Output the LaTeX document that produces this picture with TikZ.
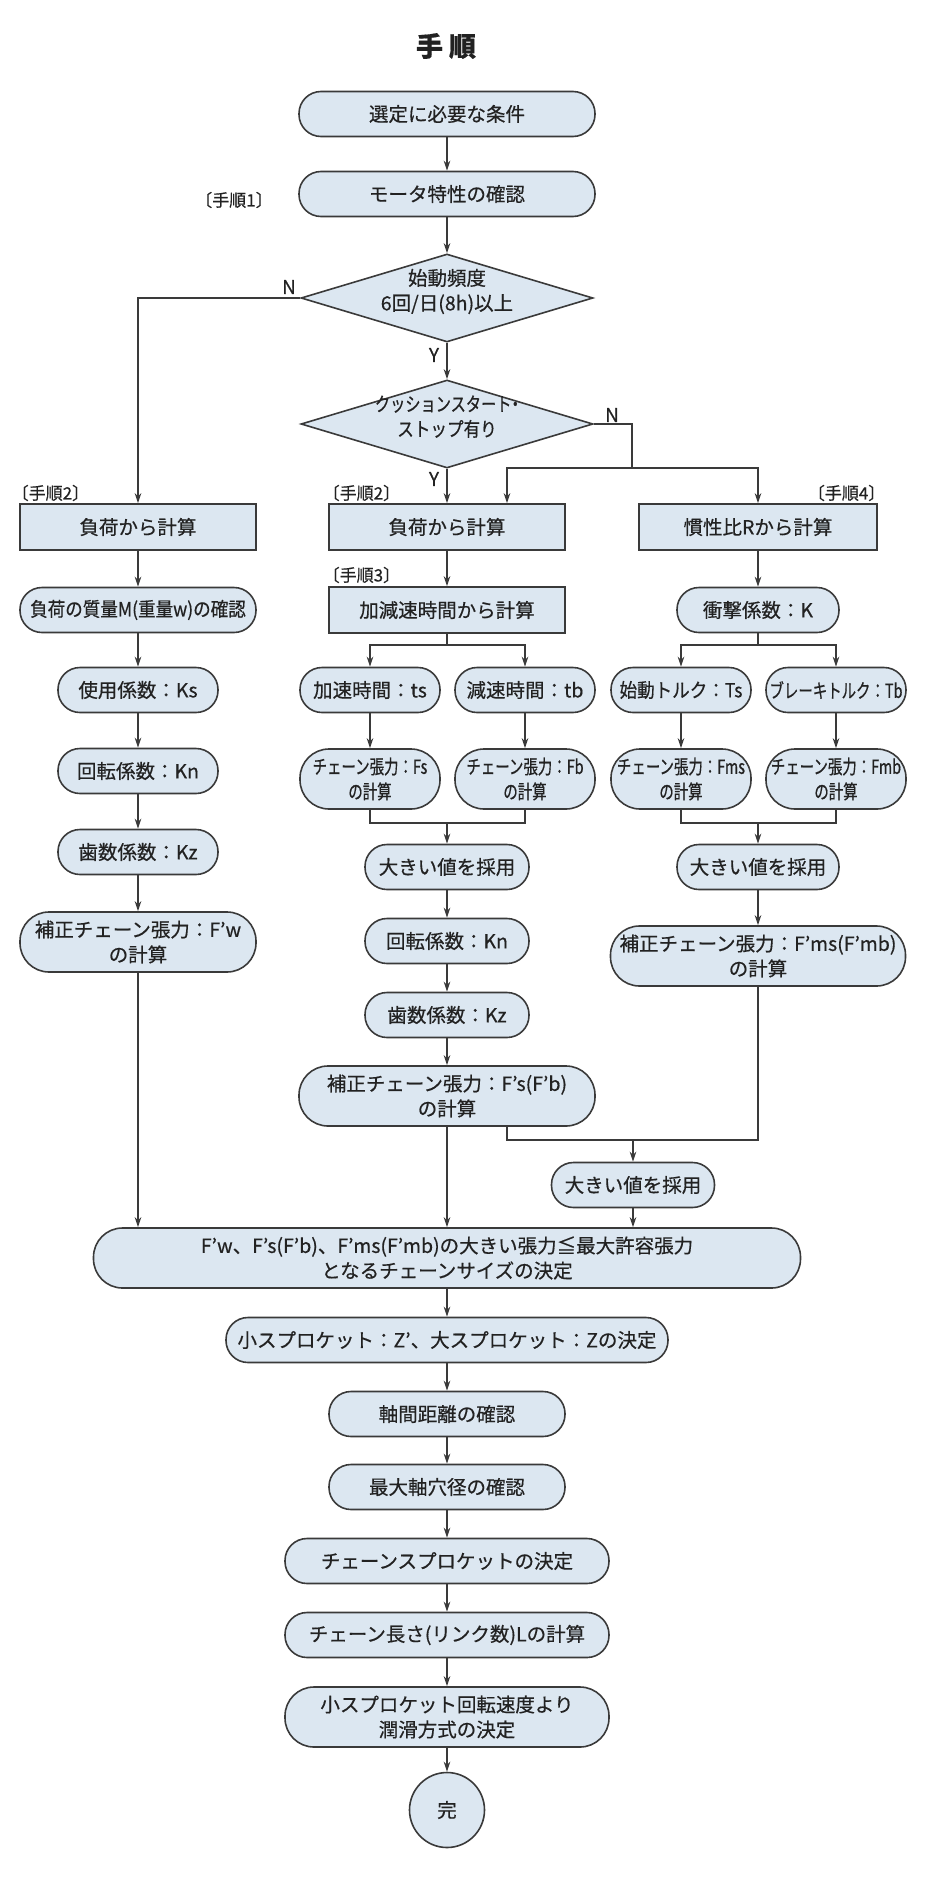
\documentclass[tikz,border=0pt]{standalone}
\usepackage{fontspec}
\setmainfont{Noto Sans CJK JP}[FakeBold=0.5]
\newfontfamily\jpslim{Noto Sans CJK JP}[FakeStretch=0.9, FakeBold=0.5]
\newfontfamily\jpkana{Noto Sans CJK JP}[FakeStretch=0.85, CharacterWidth=AlternateHalf, FakeBold=0.5]
\newfontfamily\jpkanatight{Noto Sans CJK JP}[FakeStretch=0.78, CharacterWidth=AlternateHalf, FakeBold=0.5]
\newfontfamily\jpnarrow{Noto Sans CJK JP}[FakeStretch=0.74, FakeBold=0.5]
\newfontfamily\jptag{Noto Sans CJK JP}[CharacterWidth=AlternateHalf, FakeBold=0.5]
\usepackage{tikz}
\usetikzlibrary{shapes.geometric, arrows.meta}
\definecolor{box_fill}{HTML}{DCE7F1}
\definecolor{box_line}{HTML}{3A3A3A}
\definecolor{box_text}{HTML}{222222}
\newcommand{\flatlines}[1]{\smash{\makebox[0pt]{\begin{tabular}{@{}c@{}}#1\end{tabular}}}}

\begin{document}
\begin{tikzpicture}[x=1pt, y=-1pt,
    base/.style={draw=box_line, fill=box_fill, line width=1.6pt, text=box_text, align=center, inner sep=0pt, font=\fontsize{19.5}{25}\selectfont},
    blk/.style={base, rectangle, minimum height=46pt},
    pill/.style={base, rectangle, rounded corners=22pt, minimum height=45pt},
    tall/.style={base, rectangle, rounded corners=29pt, minimum height=60pt},
    choice/.style={base, diamond, minimum width=292pt, minimum height=88pt},
    slim/.style={font=\jpslim\fontsize{19.5}{25}\selectfont},
    narrow/.style={font=\jpnarrow\fontsize{19.5}{25}\selectfont},
    tag/.style={text=box_text, inner sep=0pt, font=\jptag\fontsize{17}{19}\selectfont},
    yn/.style={text=box_text, inner sep=0pt, font=\fontsize{19}{21}\selectfont},
    arr/.style={-{Stealth[length=10pt, width=6.5pt]}, line width=1.2pt, draw=box_line},
    ln/.style={line width=1.2pt, draw=box_line}]
    \useasboundingbox (0,0) rectangle (950,1900);

    \node[text=box_text, font=\bfseries\fontsize{27}{30}\selectfont] (title) at (446,46) {手\hspace{6pt}順};

    \node[pill, minimum width=296pt] (cond) at (447,114) {選定に必要な条件};
    \node[pill, minimum width=296pt] (motor) at (447,194) {モータ特性の確認};
    \node[choice] (freq) at (447,298) {\flatlines{始動頻度\\6回/日(8h)以上}};
    \node[choice, font=\jpkana\fontsize{19.5}{25}\selectfont] (cush) at (447,424) {\flatlines{{\jpkanatight クッションスタート・}\\ストップ有り}};

    \node[blk, minimum width=236pt] (loadL) at (138,527) {負荷から計算};
    \node[blk, minimum width=236pt] (loadM) at (447,527) {負荷から計算};
    \node[blk, minimum width=238pt] (ratio) at (758,527) {慣性比Rから計算};

    \node[pill, slim, minimum width=236pt] (mass) at (138,610) {負荷の質量M(重量w)の確認};
    \node[blk, minimum width=236pt] (accdec) at (447,610) {加減速時間から計算};
    \node[pill, minimum width=162pt] (shock) at (758,610) {衝撃係数：K};

    \node[pill, minimum width=160pt] (ks) at (138,690) {使用係数：Ks};
    \node[pill, minimum width=140pt] (ts) at (370,690) {加速時間：ts};
    \node[pill, minimum width=140pt] (tb) at (525,690) {減速時間：tb};
    \node[pill, slim, minimum width=140pt] (tqs) at (681,690) {始動トルク：Ts};
    \node[pill, narrow, minimum width=140pt] (tqb) at (836,690) {ブレーキトルク：Tb};

    \node[pill, minimum width=160pt] (knL) at (138,771) {回転係数：Kn};
    \node[tall, narrow, minimum width=140pt] (fs) at (370,779) {チェーン張力：Fs\\の計算};
    \node[tall, narrow, minimum width=140pt] (fb) at (525,779) {チェーン張力：Fb\\の計算};
    \node[tall, narrow, minimum width=140pt] (fms) at (681,779) {チェーン張力：Fms\\の計算};
    \node[tall, narrow, minimum width=140pt] (fmb) at (836,779) {チェーン張力：Fmb\\の計算};

    \node[pill, minimum width=160pt] (kzL) at (138,852) {歯数係数：Kz};
    \node[pill, minimum width=164pt] (bigM) at (447,867) {大きい値を採用};
    \node[pill, minimum width=162pt] (bigR) at (758,867) {大きい値を採用};
    \node[tall, minimum width=236pt] (fw) at (138,942) {補正チェーン張力：F’w\\の計算};
    \node[pill, minimum width=164pt] (knM) at (447,941) {回転係数：Kn};
    \node[tall, minimum width=295pt] (fm) at (758,956) {補正チェーン張力：F’ms(F’mb)\\の計算};
    \node[pill, minimum width=164pt] (kzM) at (447,1015) {歯数係数：Kz};
    \node[tall, minimum width=296pt] (fsb) at (447,1096) {補正チェーン張力：F’s(F’b)\\の計算};
    \node[pill, minimum width=163pt] (bigB) at (633,1185) {大きい値を採用};

    \node[tall, minimum width=707pt] (size) at (447,1258) {F’w、F’s(F’b)、F’ms(F’mb)の大きい張力≦最大許容張力\\となるチェーンサイズの決定};
    \node[pill, minimum width=442pt] (sprk) at (447,1340) {小スプロケット：Z’、大スプロケット：Zの決定};
    \node[pill, minimum width=236pt] (dist) at (447,1414) {軸間距離の確認};
    \node[pill, minimum width=236pt] (bore) at (447,1487) {最大軸穴径の確認};
    \node[pill, minimum width=324pt] (chsp) at (447,1561) {チェーンスプロケットの決定};
    \node[pill, minimum width=324pt] (len) at (447,1635) {チェーン長さ(リンク数)Lの計算};
    \node[tall, minimum width=324pt] (lube) at (447,1717) {小スプロケット回転速度より\\潤滑方式の決定};
    \node[base, circle, minimum size=75pt] (done) at (447,1810) {完};

    \node[tag] (step1) at (234,200) {〔手順1〕};
    \node[tag, anchor=west] (step2L) at (20,493) {〔手順2〕};
    \node[tag, anchor=west] (step2M) at (331,493) {〔手順2〕};
    \node[tag, anchor=west] (step3) at (331,575) {〔手順3〕};
    \node[tag, anchor=east] (step4) at (877,493) {〔手順4〕};
    \node[yn] (freqN) at (289,287) {N};
    \node[yn] (freqY) at (434,355) {Y};
    \node[yn] (cushN) at (612,415) {N};
    \node[yn] (cushY) at (434,479) {Y};

    \coordinate (nturn) at (632,468);
    \coordinate (nhit) at (507,468);
    \coordinate (msplit) at (447,645);
    \coordinate (rsplit) at (758,645);
    \coordinate (mjoin) at (447,823);
    \coordinate (rjoin) at (758,823);
    \coordinate (bjoin) at (633,1140);

    \draw[arr] (cond) -- (motor);
    \draw[arr] (motor) -- (freq);
    \draw[arr] (freq.west) -| (loadL.north);
    \draw[arr] (freq) -- (cush);
    \draw[arr] (cush) -- (loadM);
    \draw[ln] (cush.east) -| (nturn);
    \draw[arr] (nturn) -| (ratio.north);
    \draw[arr] (nturn) -- (nhit) -- (nhit |- loadM.north);

    \foreach \a/\b in {loadL/mass, mass/ks, ks/knL, knL/kzL, kzL/fw, loadM/accdec, ts/fs, tb/fb, bigM/knM, knM/kzM, kzM/fsb, ratio/shock, tqs/fms, tqb/fmb, bigR/fm, size/sprk, sprk/dist, dist/bore, bore/chsp, chsp/len, len/lube, lube/done}
        \draw[arr] (\a) -- (\b);

    \draw[ln] (accdec) -- (msplit);
    \draw[arr] (msplit) -| (ts.north);
    \draw[arr] (msplit) -| (tb.north);
    \draw[ln] (fs.south) |- (mjoin);
    \draw[ln] (fb.south) |- (mjoin);
    \draw[arr] (mjoin) -- (bigM);

    \draw[ln] (shock) -- (rsplit);
    \draw[arr] (rsplit) -| (tqs.north);
    \draw[arr] (rsplit) -| (tqb.north);
    \draw[ln] (fms.south) |- (rjoin);
    \draw[ln] (fmb.south) |- (rjoin);
    \draw[arr] (rjoin) -- (bigR);

    \draw[ln] (fsb.south -| nhit) |- (bjoin);
    \draw[ln] (fm.south) |- (bjoin);
    \draw[arr] (bjoin) -- (bigB);

    \draw[arr] (fw.south) -- (fw.south |- size.north);
    \draw[arr] (fsb) -- (size);
    \draw[arr] (bigB) -- (bigB |- size.north);
\end{tikzpicture}
\end{document}
